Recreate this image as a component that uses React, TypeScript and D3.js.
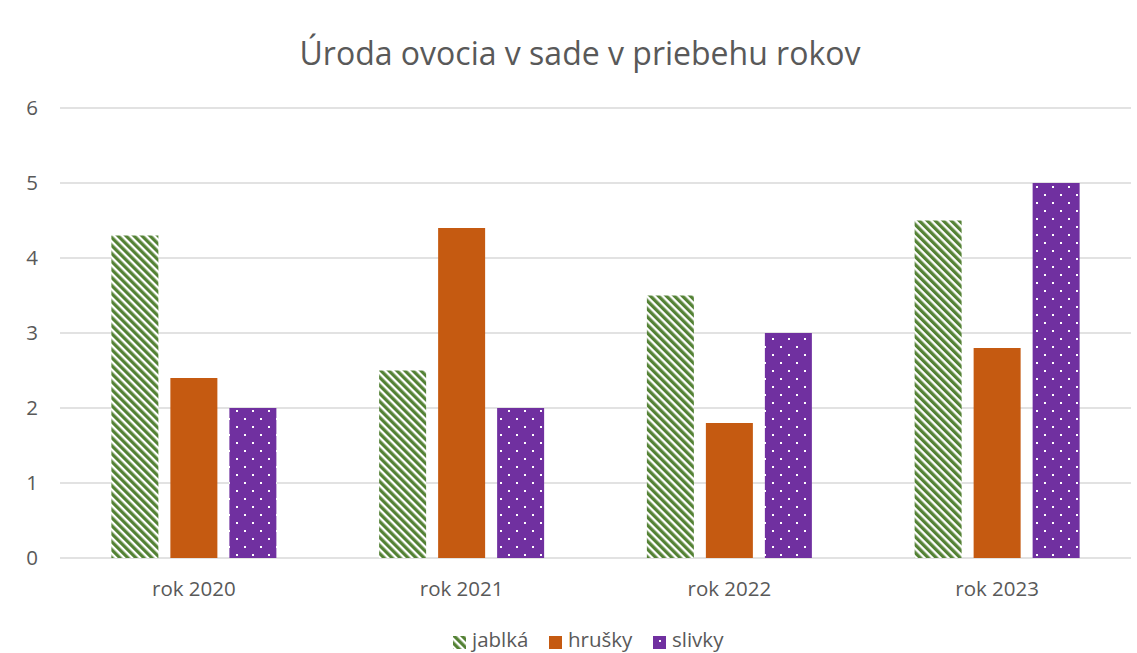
import React from "react";
import * as d3 from "d3";

const categories = ["rok 2020", "rok 2021", "rok 2022", "rok 2023"];
const seriesNames = ["jablká", "hrušky", "slivky"];
const jablka = [4.3, 2.5, 3.5, 4.5];
const hrusky = [2.4, 4.4, 1.8, 2.8];
const slivky = [2, 2, 3, 5];
const yTicks = [0, 1, 2, 3, 4, 5, 6];
const title = "Úroda ovocia v sade v priebehu rokov";

const W = 1137;
const H = 653;
const FONT = "'Open Sans', sans-serif";
const TEXT = "#595959";

export default function App() {
  const left = 60, right = 1131, top = 108, bottom = 558;
  const x = d3.scaleBand<string>().domain(categories).range([left, right]).padding(0);
  const y = d3.scaleLinear().domain([0, 6]).range([bottom, top]);
  const groupW = 165;
  const inner = d3.scaleBand<string>().domain(seriesNames).range([0, groupW]).paddingInner(12 / 59).paddingOuter(0);
  const data = [jablka, hrusky, slivky];
  const fills = ["url(#stripes)", "#C55A11", "url(#dots)"];

  const legendItems = [
    { name: seriesNames[0], fill: "url(#stripes)", x: 453 },
    { name: seriesNames[1], fill: "#C55A11", x: 549 },
    { name: seriesNames[2], fill: "url(#dotsL)", x: 653 },
  ];

  return (
    <svg width={W} height={H} style={{ position: "fixed", left: 0, top: 0, background: "#fff" }}>
      <defs>
        <pattern id="stripes" patternUnits="userSpaceOnUse" width={5.66} height={20} patternTransform="rotate(-45)">
          <rect width={5.66} height={20} fill="#fff" />
          <rect width={3.3} height={20} fill="#548235" />
        </pattern>
        <pattern id="dots" patternUnits="userSpaceOnUse" width={16} height={16} x={4} y={2}>
          <rect width={16} height={16} fill="#7030A0" />
          <rect x={0} y={0} width={2} height={2} fill="#fff" />
          <rect x={8} y={8} width={2} height={2} fill="#fff" />
        </pattern>
        <pattern id="dotsL" patternUnits="userSpaceOnUse" width={16} height={16} x={659} y={640}>
          <rect width={16} height={16} fill="#7030A0" />
          <rect x={0} y={0} width={2} height={2} fill="#fff" />
        </pattern>
      </defs>
      <text x={580} y={65} textAnchor="middle" fontFamily={FONT} fontSize={32} fill={TEXT} fontWeight={400}>
        {title}
      </text>
      {yTicks.map((t) => (
        <g key={t}>
          <line x1={left} x2={right} y1={y(t)} y2={y(t)} stroke="#D9D9D9" strokeWidth={1.3} />
          <text x={38} y={y(t)} dy="0.36em" textAnchor="end" fontFamily={FONT} fontSize={20.5} fill={TEXT}>
            {t}
          </text>
        </g>
      ))}
      {categories.map((c, i) => {
        const gx = (x(c) as number) + x.bandwidth() / 2 - groupW / 2;
        return (
          <g key={c}>
            {data.map((s, j) => (
              <rect
                key={j}
                x={gx + (inner(seriesNames[j]) as number)}
                y={y(s[i])}
                width={inner.bandwidth()}
                height={bottom - y(s[i])}
                fill={fills[j]}
              />
            ))}
            <text x={(x(c) as number) + x.bandwidth() / 2} y={596} textAnchor="middle" fontFamily={FONT} fontSize={20.5} fill={TEXT}>
              {c}
            </text>
          </g>
        );
      })}
      {legendItems.map((l) => (
        <g key={l.name}>
          <rect x={l.x} y={636} width={13} height={13} fill={l.fill} />
          <text x={l.x + 19} y={647} fontFamily={FONT} fontSize={20.5} fill={TEXT}>
            {l.name}
          </text>
        </g>
      ))}
    </svg>
  );
}
